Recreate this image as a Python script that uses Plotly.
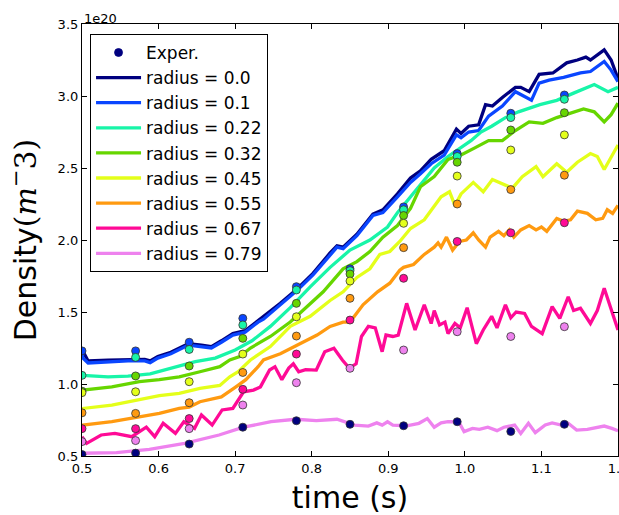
import plotly.graph_objects as go

# ---- simulated density lines (time in s, density in 1e20 m^-3) ----
t_r000 = [0.5, 0.508, 0.534, 0.56, 0.582, 0.589, 0.599, 0.616, 0.639, 0.656, 0.669, 0.682, 0.697, 0.713,
          0.730, 0.759, 0.781, 0.802, 0.824, 0.833, 0.841, 0.859, 0.880, 0.893, 0.912, 0.929, 0.942, 0.956,
          0.973, 0.989, 0.995, 1.005, 1.018, 1.027, 1.036, 1.049, 1.066, 1.073, 1.084, 1.097, 1.115, 1.133,
          1.147, 1.158, 1.164, 1.182, 1.191, 1.2]
n_r000 = [1.24, 1.16, 1.165, 1.17, 1.17, 1.16, 1.19, 1.22, 1.28, 1.27, 1.26, 1.30, 1.35, 1.37,
          1.44, 1.56, 1.66, 1.77, 1.91, 1.96, 1.95, 2.04, 2.18, 2.21, 2.32, 2.43, 2.48, 2.56,
          2.62, 2.77, 2.74, 2.79, 2.80, 2.94, 2.93, 2.99, 3.06, 3.06, 3.03, 3.15, 3.16, 3.23,
          3.25, 3.27, 3.25, 3.32, 3.25, 3.12]

t_r010 = [0.5, 0.501, 0.508, 0.524, 0.534, 0.56, 0.582, 0.589, 0.599, 0.616, 0.639, 0.656, 0.669, 0.682,
          0.697, 0.713, 0.730, 0.737, 0.759, 0.781, 0.802, 0.824, 0.833, 0.841, 0.859, 0.880, 0.893, 0.912,
          0.929, 0.942, 0.956, 0.973, 0.989, 0.995, 1.005, 1.018, 1.031, 1.049, 1.066, 1.073, 1.087, 1.097,
          1.110, 1.129, 1.151, 1.164, 1.182, 1.191, 1.2]
n_r010 = [1.25, 1.18, 1.146, 1.15, 1.155, 1.16, 1.16, 1.148, 1.18, 1.21, 1.27, 1.26, 1.25, 1.29,
          1.34, 1.36, 1.43, 1.45, 1.55, 1.65, 1.76, 1.90, 1.95, 1.94, 2.03, 2.17, 2.19, 2.30,
          2.40, 2.46, 2.53, 2.59, 2.73, 2.71, 2.75, 2.76, 2.86, 2.93, 3.03, 3.01, 2.97, 3.09,
          3.11, 3.13, 3.16, 3.17, 3.24, 3.18, 3.10]

t_r022 = [0.5, 0.501, 0.534, 0.56, 0.589, 0.616, 0.648, 0.674, 0.70, 0.722, 0.746, 0.772, 0.798, 0.824,
          0.850, 0.876, 0.899, 0.912, 0.929, 0.942, 0.960, 0.978, 0.995, 1.008, 1.021, 1.035, 1.053, 1.07,
          1.098, 1.12, 1.142, 1.169, 1.187, 1.2]
n_r022 = [1.07, 1.06, 1.05, 1.055, 1.07, 1.11, 1.155, 1.18, 1.236, 1.30, 1.40, 1.53, 1.675, 1.81,
          1.93, 2.0, 2.09, 2.19, 2.30, 2.39, 2.50, 2.58, 2.64, 2.69, 2.75, 2.79, 2.85, 2.89,
          2.94, 2.97, 3.02, 3.08, 3.03, 3.06]

t_r032 = [0.5, 0.501, 0.539, 0.575, 0.601, 0.627, 0.654, 0.68, 0.693, 0.706, 0.72, 0.746, 0.772, 0.798,
          0.815, 0.841, 0.859, 0.876, 0.893, 0.912, 0.929, 0.942, 0.960, 0.978, 0.995, 1.013, 1.031, 1.049,
          1.066, 1.084, 1.102, 1.120, 1.138, 1.155, 1.169, 1.182, 1.191, 1.2]
n_r032 = [0.95, 0.958, 0.98, 1.016, 1.03, 1.05, 1.085, 1.12, 1.167, 1.19, 1.25, 1.33, 1.43, 1.56,
          1.64, 1.80, 1.85, 1.92, 2.02, 2.10, 2.22, 2.37, 2.44, 2.56, 2.59, 2.64, 2.69, 2.69,
          2.76, 2.82, 2.81, 2.85, 2.88, 2.91, 2.89, 2.82, 2.87, 2.95]

t_r045 = [0.5, 0.501, 0.539, 0.575, 0.601, 0.627, 0.654, 0.68, 0.693, 0.704, 0.72, 0.746, 0.772, 0.798,
          0.824, 0.841, 0.859, 0.876, 0.889, 0.902, 0.915, 0.929, 0.947, 0.969, 0.980, 0.987, 0.995, 1.011,
          1.024, 1.036, 1.049, 1.062, 1.075, 1.093, 1.102, 1.120, 1.133, 1.147, 1.164, 1.173, 1.182, 1.191,
          1.2]
n_r045 = [0.82, 0.83, 0.854, 0.89, 0.92, 0.935, 0.97, 0.99, 1.05, 1.085, 1.167, 1.26, 1.40, 1.47,
          1.58, 1.64, 1.74, 1.80, 1.90, 1.92, 1.99, 2.08, 2.14, 2.30, 2.335, 2.24, 2.32, 2.40,
          2.335, 2.42, 2.39, 2.36, 2.44, 2.51, 2.44, 2.53, 2.47, 2.54, 2.60, 2.58, 2.49, 2.58,
          2.66]

t_r055 = [0.5, 0.501, 0.539, 0.575, 0.601, 0.627, 0.640, 0.654, 0.671, 0.682, 0.701, 0.714, 0.730, 0.737,
          0.759, 0.781, 0.807, 0.824, 0.841, 0.850, 0.867, 0.886, 0.902, 0.915, 0.920, 0.933, 0.947, 0.960,
          0.965, 0.969, 0.976, 0.984, 0.993, 1.002, 1.011, 1.018, 1.027, 1.033, 1.044, 1.051, 1.058, 1.064,
          1.073, 1.084, 1.093, 1.100, 1.107, 1.120, 1.129, 1.138, 1.147, 1.160, 1.171, 1.180, 1.186, 1.193,
          1.2]
n_r055 = [0.71, 0.715, 0.738, 0.773, 0.796, 0.83, 0.84, 0.877, 0.895, 0.91, 0.98, 1.03, 1.12, 1.167,
          1.21, 1.27, 1.34, 1.40, 1.43, 1.43, 1.55, 1.64, 1.70, 1.79, 1.81, 1.83, 1.90, 1.95,
          1.98, 1.95, 2.02, 1.93, 1.99, 2.0, 2.05, 2.0, 1.95, 2.02, 2.06, 2.03, 2.07, 2.02,
          2.07, 2.10, 2.07, 2.09, 2.06, 2.15, 2.13, 2.14, 2.20, 2.185, 2.14, 2.15, 2.21, 2.185,
          2.24]

t_r067 = [0.5, 0.506, 0.525, 0.543, 0.565, 0.584, 0.595, 0.606, 0.622, 0.633, 0.647, 0.656, 0.670, 0.683,
          0.697, 0.711, 0.724, 0.733, 0.745, 0.752, 0.761, 0.770, 0.776, 0.783, 0.792, 0.806, 0.817, 0.829,
          0.840, 0.849, 0.858, 0.865, 0.874, 0.883, 0.892, 0.897, 0.906, 0.913, 0.924, 0.935, 0.947, 0.956,
          0.960, 0.967, 0.974, 0.978, 0.987, 0.994, 1.003, 1.015, 1.024, 1.035, 1.042, 1.053, 1.060, 1.067,
          1.078, 1.087, 1.101, 1.114, 1.124, 1.135, 1.142, 1.151, 1.164, 1.173, 1.182, 1.192, 1.2]
n_r067 = [0.634, 0.588, 0.646, 0.657, 0.634, 0.70, 0.634, 0.727, 0.657, 0.738, 0.692, 0.785, 0.715, 0.82,
          0.83, 0.946, 0.958, 0.98, 1.097, 1.12, 1.03, 1.11, 1.14, 1.085, 1.10, 1.097, 1.224, 1.248,
          1.167, 1.11, 1.14, 1.33, 1.40, 1.39, 1.224, 1.34, 1.33, 1.34, 1.56, 1.375, 1.55, 1.42,
          1.51, 1.41, 1.43, 1.35, 1.42, 1.39, 1.53, 1.28, 1.375, 1.47, 1.39, 1.55, 1.46, 1.50,
          1.49, 1.40, 1.35, 1.537, 1.456, 1.606, 1.51, 1.526, 1.42, 1.51, 1.665, 1.51, 1.375]

t_r079 = [0.5, 0.545, 0.588, 0.634, 0.679, 0.711, 0.747, 0.779, 0.806, 0.833, 0.856, 0.874, 0.885, 0.892,
          0.899, 0.906, 0.924, 0.940, 0.951, 0.960, 0.969, 0.978, 0.992, 0.999, 1.010, 1.019, 1.030, 1.042,
          1.051, 1.065, 1.073, 1.083, 1.092, 1.105, 1.114, 1.126, 1.135, 1.146, 1.160, 1.173, 1.182, 1.192,
          1.2]
n_r079 = [0.519, 0.523, 0.546, 0.588, 0.646, 0.70, 0.738, 0.755, 0.745, 0.755, 0.715, 0.708, 0.73, 0.715,
          0.738, 0.715, 0.71, 0.727, 0.76, 0.70, 0.73, 0.738, 0.738, 0.669, 0.692, 0.685, 0.70, 0.676,
          0.70, 0.715, 0.657, 0.727, 0.662, 0.715, 0.73, 0.715, 0.727, 0.68, 0.685, 0.70, 0.708, 0.692,
          0.676]

# ---- experimental points ----
exp_t = [0.5, 0.57, 0.64, 0.71, 0.78, 0.85, 0.92, 0.99, 1.06, 1.13]
exp_blue = [1.23, 1.23, 1.29, 1.456, 1.676, 1.80, 2.23, 2.60, 2.88, 3.007]
exp_cyan = [1.06, 1.185, 1.24, 1.41, 1.653, 1.787, 2.21, 2.58, 2.85, 2.977]
exp_green = [0.95, 1.056, 1.125, 1.317, 1.56, 1.764, 2.17, 2.54, 2.764, 2.884]
exp_yellow = [0.94, 0.946, 1.016, 1.208, 1.467, 1.715, 2.116, 2.444, 2.625, 2.73]
exp_orange = [0.80, 0.796, 0.87, 1.08, 1.333, 1.595, 1.947, 2.25, 2.35, 2.45]
exp_pink = [0.69, 0.69, 0.76, 0.963, 1.208, 1.444, 1.734, 1.99, 2.05, 2.12]
exp_violet = [0.60, 0.607, 0.69, 0.854, 1.009, 1.109, 1.236, 1.363, 1.33, 1.398]
exp_navy = [0.51, 0.52, 0.583, 0.70, 0.745, 0.72, 0.71, 0.738, 0.67, 0.72]

x_ticks = [0.5, 0.6, 0.7, 0.8, 0.9, 1.0, 1.1, 1.2]
y_ticks = [0.5, 1.0, 1.5, 2.0, 2.5, 3.0, 3.5]

radius_labels = ["0.0", "0.1", "0.22", "0.32", "0.45", "0.55", "0.67", "0.79"]
colors = ["#00007f", "#0a46ff", "#18f5a8", "#66d600", "#e4ff1a", "#ff9a10", "#ff0a96", "#ee82ee"]

lines_t = [t_r000, t_r010, t_r022, t_r032, t_r045, t_r055, t_r067, t_r079]
lines_n = [n_r000, n_r010, n_r022, n_r032, n_r045, n_r055, n_r067, n_r079]

# experimental dot sets (top to bottom) and their colours
exp_sets = [exp_blue, exp_cyan, exp_green, exp_yellow, exp_orange, exp_pink, exp_violet, exp_navy]
exp_colors = [colors[1], colors[2], colors[3], colors[4], colors[5], colors[6], colors[7], colors[0]]

FONT = "DejaVu Sans"
fig = go.Figure()

for i, (tt, nn) in enumerate(zip(lines_t, lines_n)):
    fig.add_trace(go.Scatter(
        x=tt, y=nn, mode="lines", name=f"radius = {radius_labels[i]}",
        line=dict(color=colors[i], width=3.3), legendrank=i + 2,
        legendgroup=f"g{i}"))

for j, (vals, c) in enumerate(zip(exp_sets, exp_colors)):
    fig.add_trace(go.Scatter(
        x=exp_t, y=vals, mode="markers", name="Exper.",
        marker=dict(color=c, size=8, line=dict(color="#333333", width=0.8)),
        showlegend=False, legendgroup="exp"))

# legend entry for experimental points
fig.add_trace(go.Scatter(
    x=[None], y=[None], mode="markers", name="Exper.",
    marker=dict(color="#00007f", size=8, line=dict(color="#00007f", width=0.8)),
    legendrank=1, legendgroup="exp"))

fig.update_layout(
    width=619, height=515,
    margin=dict(l=82, r=1, t=24, b=59),
    paper_bgcolor="white", plot_bgcolor="white",
    font=dict(family=FONT, size=13, color="black"),
    showlegend=True,
    legend=dict(x=0.015, y=0.977, xanchor="left", yanchor="top",
                bgcolor="white", bordercolor="black", borderwidth=1,
                font=dict(family=FONT, size=17, color="black"),
                tracegroupgap=8, traceorder="normal", itemwidth=45),
    xaxis=dict(range=[0.5, 1.20001], tickvals=x_ticks, tickformat=".1f",
               ticks="inside", ticklen=5, tickcolor="black", mirror="allticks",
               showline=True, linecolor="black", linewidth=1.2,
               showgrid=False, zeroline=False, automargin=False,
               ticklabeloverflow="allow",
               tickfont=dict(family=FONT, size=13),
               title=dict(text="time (s)", font=dict(family=FONT, size=30), standoff=12)),
    yaxis=dict(range=[0.5, 3.5], tickvals=y_ticks, tickformat=".1f",
               ticks="inside", ticklen=5, tickcolor="black", mirror="allticks",
               showline=True, linecolor="black", linewidth=1.2,
               showgrid=False, zeroline=False, automargin=False,
               ticklabeloverflow="allow",
               tickfont=dict(family=FONT, size=13),
               title=dict(text="Density<span style='font-family:DejaVu Serif'>(<i>m</i><sup>−</sup>3)</span>",
                          font=dict(family=FONT, size=30), standoff=12)),
)

fig.add_annotation(text="1e20", xref="paper", yref="paper", x=0.0, y=1.0,
                   xanchor="left", yanchor="bottom", showarrow=False,
                   font=dict(family=FONT, size=13, color="black"), yshift=-4)

fig.write_html("out.html", config={"displayModeBar": False},
               post_script="document.body.style.margin='0px';")
